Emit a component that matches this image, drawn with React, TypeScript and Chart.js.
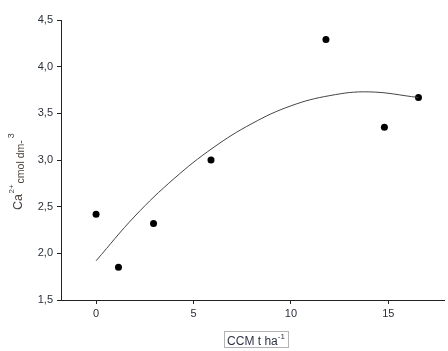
import React, { useEffect, useRef } from "react";
import { Chart, registerables } from "chart.js";

Chart.register(...registerables);

// Observed data points
const doseX = [0, 1.15, 2.95, 5.9, 11.8, 14.8, 16.55];
const caY = [2.42, 1.85, 2.32, 3.0, 4.29, 3.35, 3.67];

// Fitted trend curve
const curveX = [0, 2, 4, 6, 8, 10, 12, 14, 16.55];
const curveY = [1.92, 2.4, 2.8, 3.13, 3.39, 3.58, 3.69, 3.73, 3.67];

const yTicks = [1.5, 2.0, 2.5, 3.0, 3.5, 4.0, 4.5];
const xTicks = [0, 5, 10, 15];

const FONT = "'Liberation Sans', Arial, sans-serif";

const titlesPlugin = {
  id: "titles",
  afterDraw(chart: any) {
    const ctx = chart.ctx;
    ctx.save();
    // Y title, rotated
    ctx.translate(21.5, 210);
    ctx.rotate(-Math.PI / 2);
    ctx.fillStyle = "#4a3f38";
    ctx.textBaseline = "alphabetic";
    ctx.textAlign = "left";
    let x = 0;
    ctx.font = `12.5px ${FONT}`;
    ctx.fillText("Ca", x, 0);
    x += ctx.measureText("Ca").width + 0.5;
    ctx.font = `8px ${FONT}`;
    ctx.fillText("2+", x, -8);
    x += ctx.measureText("2+").width + 1;
    ctx.font = `10.5px ${FONT}`;
    ctx.fillText("cmol dm-", x, 2);
    x += ctx.measureText("cmol dm-").width + 2;
    ctx.font = `9px ${FONT}`;
    ctx.fillText("3", x, -8);
    ctx.restore();

    // X title with dotted frame
    ctx.save();
    ctx.fillStyle = "#2e3545";
    ctx.textBaseline = "alphabetic";
    ctx.textAlign = "left";
    ctx.font = `12px ${FONT}`;
    const main = "CCM t ha";
    const wMain = ctx.measureText(main).width;
    ctx.font = `8px ${FONT}`;
    const sup = "-1";
    const wSup = ctx.measureText(sup).width;
    const total = wMain + wSup;
    const cx = 256;
    const sx = cx - total / 2;
    ctx.font = `12px ${FONT}`;
    ctx.fillText(main, sx, 345);
    ctx.font = `8px ${FONT}`;
    ctx.fillText(sup, sx + wMain, 339);
    ctx.strokeStyle = "#666";
    ctx.lineWidth = 1;
    ctx.setLineDash([1, 1]);
    ctx.strokeRect(Math.round(sx - 3) + 0.5, 331.5, Math.round(total + 6), 16);
    ctx.restore();
  },
};

export default function App() {
  const ref = useRef<HTMLCanvasElement | null>(null);
  useEffect(() => {
    if (!ref.current) return;
    const chart = new Chart(ref.current, {
      type: "scatter",
      data: {
        datasets: [
          {
            type: "line",
            data: curveX.map((v, i) => ({ x: v, y: curveY[i] })),
            borderColor: "#444",
            borderWidth: 1,
            pointRadius: 0,
            tension: 0.4,
            fill: false,
          } as any,
          {
            type: "scatter",
            data: doseX.map((v, i) => ({ x: v, y: caY[i] })),
            backgroundColor: "#000",
            borderColor: "#000",
            pointRadius: 3.5,
            borderWidth: 0,
          },
        ],
      },
      options: {
        responsive: false,
        animation: false,
        layout: { padding: { top: 20, right: 0, left: 0, bottom: 0 } },
        plugins: { legend: { display: false }, tooltip: { enabled: false } },
        scales: {
          x: {
            type: "linear",
            min: -1.8,
            max: 17.86,
            afterFit: (s: any) => {
              s.height = 51;
            },
            afterBuildTicks: (s: any) => {
              s.ticks = xTicks.map((v) => ({ value: v }));
            },
            grid: {
              display: true,
              drawOnChartArea: false,
              drawTicks: true,
              tickLength: 4,
              color: "#222",
            },
            border: { display: true, color: "#222", width: 1 },
            ticks: {
              includeBounds: false,
              color: "#2a2f3a",
              font: { family: FONT, size: 11 },
              padding: 3,
              maxRotation: 0,
            },
          },
          y: {
            type: "linear",
            min: 1.5,
            max: 4.5,
            afterFit: (s: any) => {
              s.width = 61;
            },
            afterBuildTicks: (s: any) => {
              s.ticks = yTicks.map((v) => ({ value: v }));
            },
            grid: {
              display: true,
              drawOnChartArea: false,
              drawTicks: true,
              tickLength: 4,
              color: "#222",
            },
            border: { display: true, color: "#222", width: 1 },
            ticks: {
              color: "#2a2f3a",
              font: { family: FONT, size: 11 },
              padding: 4,
              callback: (v: any) => Number(v).toFixed(1).replace(".", ","),
            },
          },
        },
      },
      plugins: [titlesPlugin],
    });
    return () => chart.destroy();
  }, []);
  return (
    <div style={{ position: "absolute", left: 0, top: 0, width: 448, height: 351, background: "#fff" }}>
      <canvas ref={ref} width={448} height={351} style={{ display: "block" }} />
    </div>
  );
}
